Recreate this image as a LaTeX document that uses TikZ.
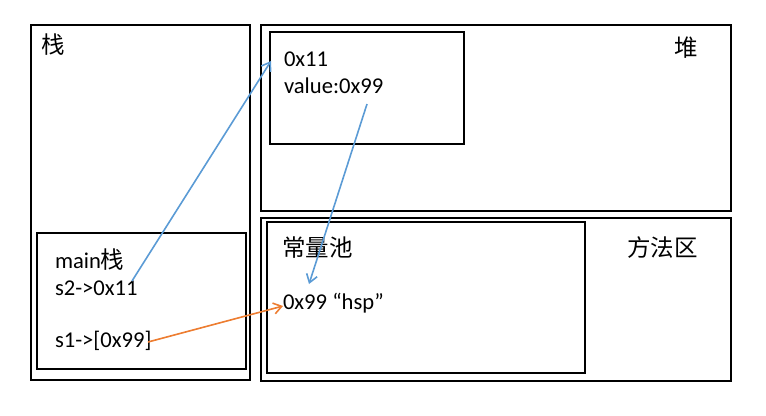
\documentclass[tikz,border=0pt]{standalone}
\usepackage{fontspec}
\setmainfont{Carlito}
\newfontfamily\cjk{Noto Sans CJK SC}
\usetikzlibrary{arrows.meta}
\definecolor{arrblue}{HTML}{5B9BD5}
\definecolor{arrorange}{HTML}{ED7D31}
\tikzset{
  box/.style={draw=black, line width=2.3bp, inner sep=0pt, outer sep=0pt, anchor=north west, fill=none},
  lbl/.style={anchor=base west, inner sep=0pt, outer sep=0pt, font=\fontsize{22.6bp}{26bp}\selectfont},
  ptr/.style={line width=1.6bp, -{Straight Barb[length=8bp,width=11bp,line width=1.6bp]}},
}
\begin{document}
\begin{tikzpicture}[x=1bp,y=-1bp]
\useasboundingbox (0,0) rectangle (766,415);
% containers
\node[box, minimum width=219bp, minimum height=355bp] (stack) at (31,25) {};
\node[box, minimum width=209bp, minimum height=136bp] (mainstack) at (37,233) {};
\node[box, minimum width=470bp, minimum height=186bp] (heap) at (261,25) {};
\node[box, minimum width=194bp, minimum height=112bp] (obj) at (270,32) {};
\node[box, minimum width=470bp, minimum height=163bp] (method) at (261,218) {};
\node[box, minimum width=318bp, minimum height=151bp] (pool) at (267,222) {};
% labels
\node[lbl] (tstack) at (41,53) {\fontsize{23.5bp}{26bp}\selectfont\cjk 栈};
\node[lbl] (theap) at (674,56) {\fontsize{23.5bp}{26bp}\selectfont\cjk 堆};
\node[lbl] (tmethod) at (627,256) {\fontsize{23.5bp}{26bp}\selectfont\cjk 方法区};
\node[lbl] (tpool) at (282,256) {\fontsize{23.5bp}{26bp}\selectfont\cjk 常量池};
\node[lbl] (tmain) at (55,268) {main{\fontsize{23.5bp}{26bp}\selectfont\cjk 栈}};
\node[lbl] (ts2) at (55,295) {s2->0x11};
\node[lbl] (ts1) at (55,347) {s1->[0x99]};
\node[lbl] (taddr) at (284,66) {0x11};
\node[lbl] (tval) at (284,93) {value:0x99};
\node[lbl] (tstr) at (283,309) {0x99 “hsp”};
% connector endpoints
\coordinate (s2end) at (132,281);
\coordinate (objin) at (271,61);
\coordinate (valend) at (367,104);
\coordinate (strtop) at (309,284);
\coordinate (s1end) at (148,342);
\coordinate (strin) at (283,306);
% connectors
\draw[ptr, arrblue] (s2end) -- (objin);
\draw[ptr, arrblue] (valend) -- (strtop);
\draw[ptr, arrorange] (s1end) -- (strin);
\end{tikzpicture}
\end{document}
